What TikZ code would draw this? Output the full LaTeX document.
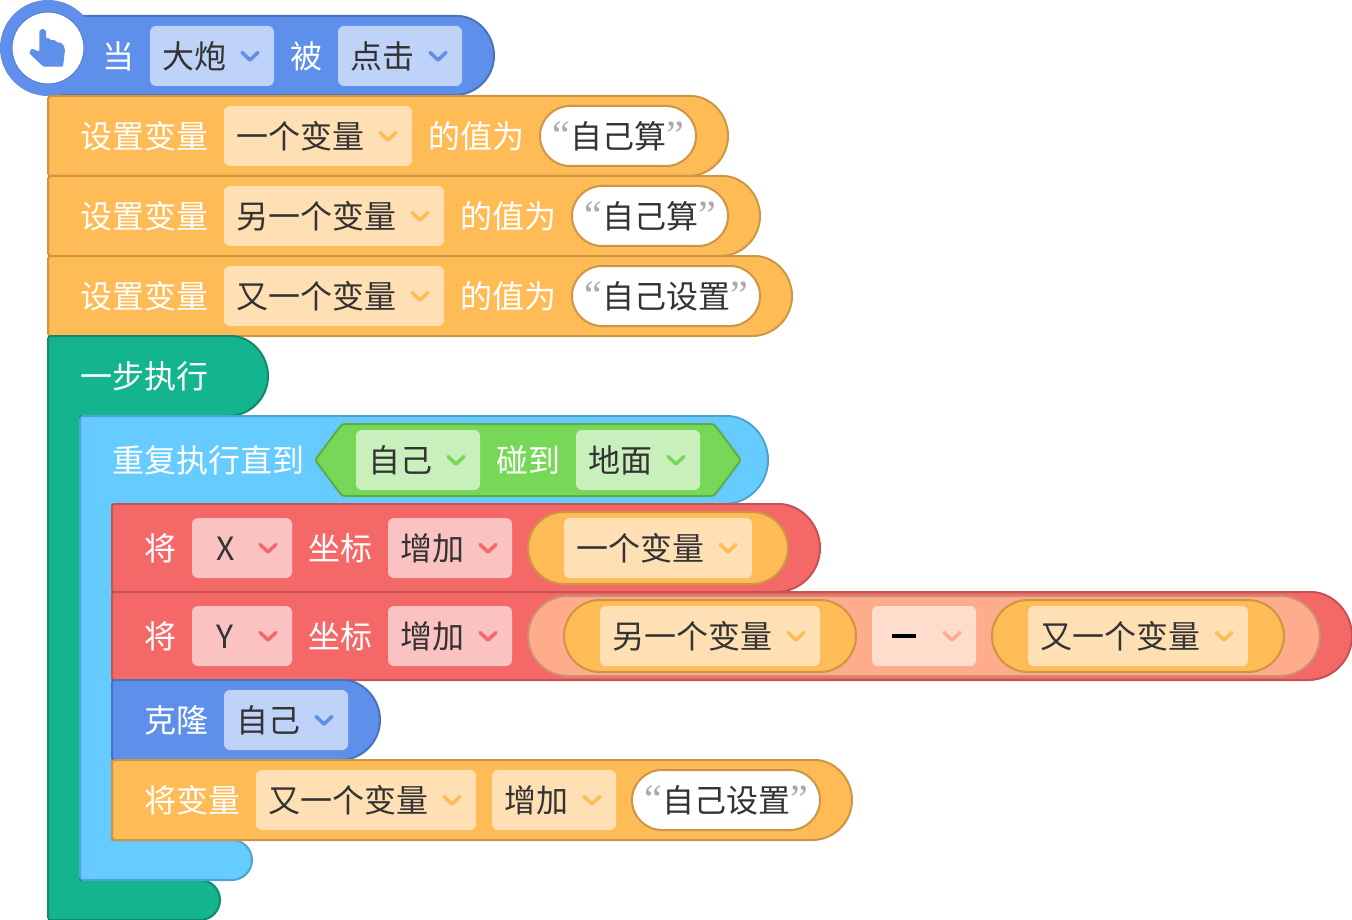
\documentclass[tikz,border=0pt]{standalone}
\usepackage{fontspec}
\setmainfont{Noto Sans CJK SC}
\newfontfamily\quotefont{Liberation Serif}
\usetikzlibrary{positioning}
\definecolor{blueFill}{HTML}{5E8FEB}
\definecolor{blueLine}{HTML}{4B72BC}
\definecolor{blueLight}{HTML}{BFD2F7}
\definecolor{orangeFill}{HTML}{FFBB55}
\definecolor{orangeLine}{HTML}{CC9644}
\definecolor{orangeLight}{HTML}{FFE0B5}
\definecolor{tealFill}{HTML}{14B48F}
\definecolor{tealLine}{HTML}{108A6E}
\definecolor{skyFill}{HTML}{66CCFF}
\definecolor{skyLine}{HTML}{52A3CC}
\definecolor{greenFill}{HTML}{77D757}
\definecolor{greenLine}{HTML}{5FAC46}
\definecolor{greenLight}{HTML}{C9F0BC}
\definecolor{redFill}{HTML}{F56868}
\definecolor{redLine}{HTML}{C45353}
\definecolor{redLight}{HTML}{FBC2C2}
\definecolor{salmonFill}{HTML}{FFAC8C}
\definecolor{salmonLine}{HTML}{CC8F72}
\definecolor{salmonLight}{HTML}{FFDDCC}
\definecolor{inkText}{HTML}{333333}
\definecolor{quoteGrey}{HTML}{AAAAAA}
\newcommand{\roundblock}[5]{%
  \pgfmathsetmacro{\halfh}{((#3)-(#5))/2}
  \draw[#1] (#4-\halfh,#3) arc[start angle=90,end angle=-90,radius=\halfh]
    [rounded corners=3pt] -- (#2,#5) -- (#2,#3) -- cycle;
}
\newcommand{\quotemark}[1]{\textcolor{quoteGrey}{\fontsize{40}{40}\quotefont #1}}
\newcommand{\quoted}[1]{\quotemark{“}#1\quotemark{”}}

\begin{document}
\begin{tikzpicture}[
  x=1pt, y=1pt,
  node distance=16pt,
  every node/.style={outer sep=0pt},
  cjk/.style={font=\fontsize{32}{36}\selectfont, text height=28.5pt, text depth=3.5pt, inner sep=0pt},
  lab/.style={cjk, text=white},
  dropbox/.style n args={3}{cjk, text=inkText, fill=#2, rounded corners=6pt,
    minimum width=#1, minimum height=60pt, text width=#1-24pt, inner xsep=12pt, align=left,
    path picture={\draw[#3, sharp corners, line width=3.5pt, line cap=round, line join=round]
      ([shift={(-32,3.5)}]path picture bounding box.east) -- ++(8,-7.5) -- ++(8,7.5);}},
  bluedrop/.style={dropbox={#1}{blueLight}{blueFill}},
  orangedrop/.style={dropbox={#1}{orangeLight}{orangeFill}},
  greendrop/.style={dropbox={#1}{greenLight}{greenFill}},
  reddrop/.style={dropbox={#1}{redLight}{redFill}},
  salmondrop/.style={dropbox={#1}{salmonLight}{salmonFill}},
  strpill/.style={cjk, text=inkText, draw=orangeLine, fill=white, line width=2pt,
    rounded corners=30pt, minimum width=#1, minimum height=60pt},
  varpill/.style={draw=orangeLine, fill=orangeFill, line width=2pt, inner sep=0pt,
    rounded corners=36pt, minimum width=#1, minimum height=72pt},
  opblock/.style={draw=salmonLine, fill=salmonFill, line width=2pt, inner sep=0pt,
    rounded corners=40pt, minimum width=#1, minimum height=80pt},
  blueblock/.style={draw=blueLine, fill=blueFill, line width=2pt},
  orangeblock/.style={draw=orangeLine, fill=orangeFill, line width=2pt},
  redblock/.style={draw=redLine, fill=redFill, line width=2pt},
  tealblock/.style={draw=tealLine, fill=tealFill, line width=2pt, line join=round},
  skyblock/.style={draw=skyLine, fill=skyFill, line width=2pt, line join=round},
]
\useasboundingbox (0,0) rectangle (1352,-920);

% Hat block
\roundblock{blueblock}{48}{-16}{494}{-95}
\fill[blueFill] (48,-48) circle[radius=48];
\node[circle, draw=blueLine!60!blueFill, fill=white, line width=1pt, inner sep=0pt, minimum size=72pt] (hatDisc) at (48,-48) {};
\fill[blueFill, rounded corners=1pt] (39.3,-31) -- (39.3,-51.7) -- (31.7,-48.6) -- (29,-53) -- (43.3,-66.7) -- (63,-66.7) -- (65,-50) -- (63.5,-45) -- (59.5,-42) -- (58,-43) -- (56,-41) -- (53,-39.6) -- (51,-40.5) -- (49,-38) -- (46,-38.5) -- (46,-31) -- (42.7,-28.5) -- cycle;
\node[lab, anchor=west] (hatWhen) at (102,-56) {当};
\node[bluedrop=124pt, right=16pt of hatWhen] (hatTarget) {大炮};
\node[lab, right=of hatTarget] (hatBy) {被};
\node[bluedrop=124pt, right=of hatBy] (hatEvent) {点击};

% Set variable rows
\roundblock{orangeblock}{48}{-96}{728}{-176}
\node[lab, anchor=west] (setA) at (80,-136) {设置变量};
\node[orangedrop=188pt, right=of setA] (setAvar) {一个变量};
\node[lab, right=of setAvar] (setAto) {的值为};
\node[strpill=156pt, right=of setAto] (setAval) {\quoted{自己算}};

\roundblock{orangeblock}{48}{-176}{760}{-256}
\node[lab, anchor=west] (setB) at (80,-216) {设置变量};
\node[orangedrop=220pt, right=of setB] (setBvar) {另一个变量};
\node[lab, right=of setBvar] (setBto) {的值为};
\node[strpill=156pt, right=of setBto] (setBval) {\quoted{自己算}};

\roundblock{orangeblock}{48}{-256}{792}{-336}
\node[lab, anchor=west] (setC) at (80,-296) {设置变量};
\node[orangedrop=220pt, right=of setC] (setCvar) {又一个变量};
\node[lab, right=of setCvar] (setCto) {的值为};
\node[strpill=188pt, right=of setCto] (setCval) {\quoted{自己设置}};

% Single step clamp
\draw[tealblock] (228,-336) arc[start angle=90,end angle=-90,radius=40] -- (80,-416) -- (80,-880) -- (200,-880) arc[start angle=90,end angle=-90,radius=20] [rounded corners=3pt] -- (48,-920) -- (48,-336) -- cycle;
\node[lab, anchor=west] (stepText) at (80,-376) {一步执行};

% Repeat until clamp
\draw[skyblock] (724,-416) arc[start angle=90,end angle=-90,radius=44] -- (112,-504) -- (112,-840) -- (232,-840) arc[start angle=90,end angle=-90,radius=20] [rounded corners=3pt] -- (80,-880) -- (80,-416) -- cycle;
\node[lab, anchor=west] (loopText) at (112,-460) {重复执行直到};
\draw[draw=greenLine, fill=greenFill, line width=2pt, rounded corners=3pt] (315,-460) -- (342,-424) -- (714,-424) -- (741,-460) -- (714,-496) -- (342,-496) -- cycle;
\node[greendrop=124pt, anchor=west] (touchWho) at (356,-460) {自己};
\node[lab, right=of touchWho] (touchText) {碰到};
\node[greendrop=124pt, right=of touchText] (touchWhat) {地面};

% Change x
\roundblock{redblock}{112}{-504}{820}{-592}
\node[lab, anchor=west] (moveX) at (144,-548) {将};
\node[reddrop=100pt, right=of moveX] (axisX) {\hspace{12pt}X};
\node[lab, right=of axisX] (coordX) {坐标};
\node[reddrop=124pt, right=of coordX] (incX) {增加};
\node[varpill=260pt, right=of incX] (pillX) {};
\node[orangedrop=188pt] (varX) at (pillX) {一个变量};

% Change y
\roundblock{redblock}{112}{-592}{1352}{-680}
\node[lab, anchor=west] (moveY) at (144,-636) {将};
\node[reddrop=100pt, right=of moveY] (axisY) {\hspace{12pt}Y};
\node[lab, right=of axisY] (coordY) {坐标};
\node[reddrop=124pt, right=of coordY] (incY) {增加};
\node[opblock=792pt, right=of incY] (opY) {};
\node[varpill=292pt, anchor=west] (pillLeft) at (564,-636) {};
\node[orangedrop=220pt] (varLeft) at (pillLeft) {另一个变量};
\node[salmondrop=104pt, right=of pillLeft] (opSign) {\hspace{8pt}\textcolor{black}{\rule[10.5pt]{24pt}{4.5pt}}};
\node[varpill=292pt, right=of opSign] (pillRight) {};
\node[orangedrop=220pt] (varRight) at (pillRight) {又一个变量};

% Clone
\roundblock{blueblock}{112}{-680}{380}{-760}
\node[lab, anchor=west] (cloneText) at (144,-720) {克隆};
\node[bluedrop=124pt, right=of cloneText] (cloneWho) {自己};

% Change variable
\roundblock{orangeblock}{112}{-760}{852}{-840}
\node[lab, anchor=west] (addText) at (144,-800) {将变量};
\node[orangedrop=220pt, right=of addText] (addVar) {又一个变量};
\node[orangedrop=124pt, right=of addVar] (addOp) {增加};
\node[strpill=188pt, right=of addOp] (addVal) {\quoted{自己设置}};

\end{tikzpicture}
\end{document}
